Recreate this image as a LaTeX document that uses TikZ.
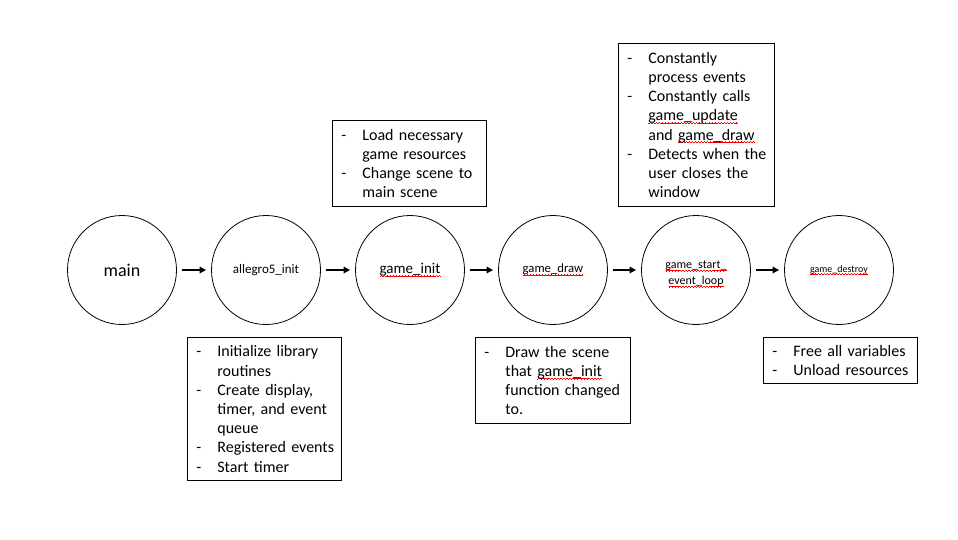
\documentclass[tikz,border=0pt]{standalone}
\usepackage{fontspec}
\setmainfont{Carlito}
\usetikzlibrary{arrows.meta}
\newcommand\wv{\hbox{\rule[-2.9pt]{0.75pt}{0.55pt}\rule[-2.4pt]{0.75pt}{0.55pt}\rule[-1.9pt]{0.75pt}{0.55pt}\rule[-2.4pt]{0.75pt}{0.55pt}}}
\newcommand\sq[1]{\setbox0\hbox{#1}\rlap{\color{red}\hbox to\wd0{\xleaders\wv\hfil}}\box0}
\newcommand\dsh{\hspace*{3pt}\makebox[21pt][l]{-}}
\newcommand\ind{\hspace*{24pt}}
\begin{document}
\begin{tikzpicture}[x=1pt,y=-1pt,
  proc/.style={circle, draw, line width=0.8pt, minimum size=109pt, inner sep=0pt, align=center},
  ptext/.style={inner sep=0pt, align=center},
  note/.style={draw, line width=0.8pt, anchor=north west, align=left, inner xsep=6pt, inner ysep=0pt, font=\fontsize{16}{19.2}\selectfont},
  flow/.style={-{Triangle[length=6.5pt,width=6.5pt]}, line width=1.6pt, shorten <=5pt, shorten >=5pt}]
\useasboundingbox[fill=white] (0,0) rectangle (958,539);
% process circles
\node[proc, font=\fontsize{18}{20}\selectfont] (main) at (122,270) {main};
\node[proc, font=\fontsize{13}{15}\selectfont] (allegro) at (266,270) {allegro5\_init};
\node[proc, font=\fontsize{15}{17}\selectfont] (init) at (410,270) {\sq{game\_init}};
\node[proc, font=\fontsize{12.7}{15}\selectfont] (draw) at (553,270) {\sq{game\_draw}};
\node[proc] (loop) at (696,270) {};
\node[ptext, font=\fontsize{12}{16}\selectfont] (looptext) at (696,274) {\sq{game\_start\_}\\\sq{event\_loop}};
\node[proc, font=\fontsize{10}{12}\selectfont] (destroy) at (839,270) {\sq{game\_destroy}};
% connectors
\draw[flow] (main) -- (allegro);
\draw[flow] (allegro) -- (init);
\draw[flow] (init) -- (draw);
\draw[flow] (draw) -- (loop);
\draw[flow] (loop) -- (destroy);
% notes
\node[note, text width=142pt, minimum height=86pt] (ninit) at (332,120)
  {\dsh Load necessary\\ \ind game resources\\ \dsh Change scene to\\ \ind main scene};
\node[note, text width=142pt, minimum height=143pt] (nallegro) at (187,337)
  {\dsh Initialize library\\ \ind routines\\ \dsh Create display,\\ \ind timer, and event\\ \ind queue\\ \dsh Registered events\\ \dsh Start timer};
\node[note, text width=143pt, minimum height=86pt] (ndraw) at (475,337)
  {\dsh Draw the scene\\ \ind that \sq{game\_init}\\ \ind function changed\\ \ind to.};
\node[note, text width=144pt, minimum height=163pt] (nloop) at (618,43)
  {\dsh Constantly\\ \ind process events\\ \dsh Constantly calls\\ \ind \sq{game\_update}\\ \ind and \sq{game\_draw}\\ \dsh Detects when the\\ \ind user closes the\\ \ind window};
\node[note, text width=142pt, minimum height=46pt] (ndestroy) at (763,337)
  {\dsh Free all variables\\ \dsh Unload resources};
\end{tikzpicture}
\end{document}
